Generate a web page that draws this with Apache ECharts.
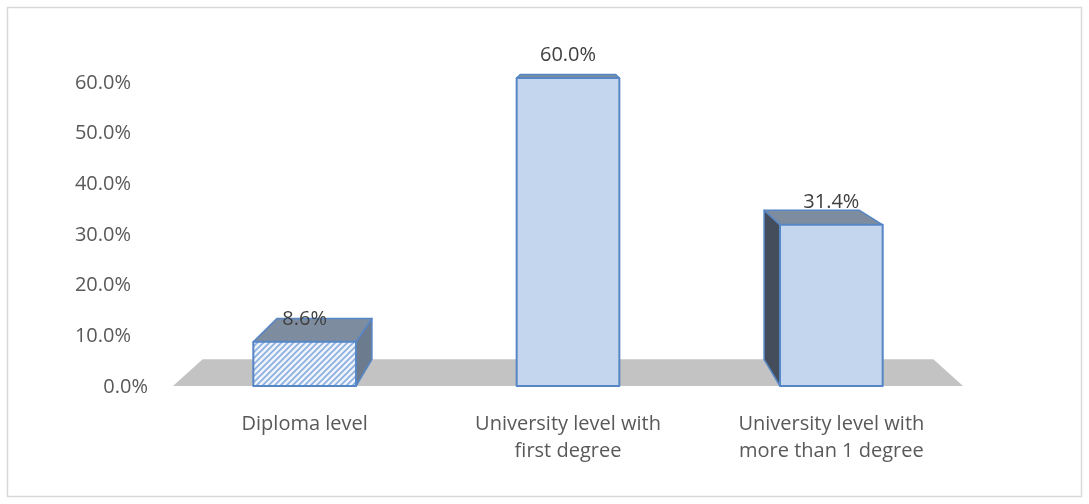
<!DOCTYPE html>
<html>
<head>
<meta charset="utf-8">
<script src="https://cdn.jsdelivr.net/npm/echarts@6/dist/echarts.min.js"></script>
<style>
  html, body { margin: 0; padding: 0; background: #fff; }
  #chart { width: 1089px; height: 504px; }
</style>
</head>
<body>
<div id="chart"></div>
<script>
const categories = ['Diploma level', 'University level with\nfirst degree', 'University level with\nmore than 1 degree']
const values = [8.6, 60.0, 31.4]
const yTicks = [0, 10, 20, 30, 40, 50, 60]

// perspective of the excel 3d view: back face = front moved toward a vanishing point
const depth = 0.075
const vpAbove = 48
const blue = '#5686c6'
const frontFill = '#c4d5ee'
const topFill = '#7d8c9e'
const rightFill = '#6c7b8e'
const leftFill = '#434d5b'

function stripes() {
  const c = document.createElement('canvas')
  c.width = 6
  c.height = 6
  const ctx = c.getContext('2d')
  ctx.fillStyle = '#eef3fb'
  ctx.fillRect(0, 0, 6, 6)
  ctx.strokeStyle = '#8aaede'
  ctx.lineWidth = 1.6
  ctx.beginPath()
  ctx.moveTo(-1, 7); ctx.lineTo(7, -1)
  ctx.moveTo(-4, 4); ctx.lineTo(4, -4)
  ctx.moveTo(2, 10); ctx.lineTo(10, 2)
  ctx.stroke()
  return c
}
const hatch = { image: stripes(), repeat: 'repeat' }

const chart = echarts.init(document.getElementById('chart'))

function project(pt, vp) {
  return [pt[0] + depth * (vp[0] - pt[0]), pt[1] + depth * (vp[1] - pt[1])]
}

function renderFloor(params, api) {
  const cs = params.coordSys
  const vp = [cs.x + cs.width / 2, cs.y - vpAbove]
  const fl = [cs.x, cs.y + cs.height]
  const fr = [cs.x + cs.width, cs.y + cs.height]
  return {
    type: 'polygon',
    shape: { points: [fl, fr, project(fr, vp), project(fl, vp)] },
    style: { fill: '#c3c3c3' }
  }
}

function renderBar(params, api) {
  const cs = params.coordSys
  const vp = [cs.x + cs.width / 2, cs.y - vpAbove]
  const i = api.value(0)
  const top = api.coord([i, api.value(1)])
  const base = api.coord([i, 0])
  const w = api.size([1, 0])[0] * 0.39
  const x0 = top[0] - w / 2, x1 = top[0] + w / 2
  const ftl = [x0, top[1]], ftr = [x1, top[1]]
  const fbl = [x0, base[1]], fbr = [x1, base[1]]
  const btl = project(ftl, vp), btr = project(ftr, vp)
  const bbl = project(fbl, vp), bbr = project(fbr, vp)
  const edge = { stroke: blue, lineWidth: 1.5, lineJoin: 'round' }
  const children = []
  if (vp[0] > x1) {
    children.push({ type: 'polygon', shape: { points: [ftr, btr, bbr, fbr] }, style: Object.assign({ fill: rightFill }, edge) })
  } else if (vp[0] < x0) {
    children.push({ type: 'polygon', shape: { points: [ftl, btl, bbl, fbl] }, style: Object.assign({ fill: leftFill }, edge) })
  }
  children.push({ type: 'polygon', shape: { points: [ftl, ftr, btr, btl] }, style: Object.assign({ fill: topFill }, edge) })
  children.push({
    type: 'polygon',
    shape: { points: [ftl, ftr, fbr, fbl] },
    style: { fill: i === 0 ? hatch : frontFill, stroke: blue, lineWidth: 2, lineJoin: 'round' }
  })
  children.push({
    type: 'text',
    style: {
      x: top[0], y: top[1] - 23,
      text: api.value(1).toFixed(1) + '%',
      fill: '#404040',
      font: '20px "Open Sans"',
      align: 'center', verticalAlign: 'middle'
    }
  })
  return { type: 'group', children: children }
}

// y labels: the 0 label sits by the floor corner, the rest line up further left
const labelRich = {}
yTicks.forEach(v => {
  labelRich['t' + v] = {
    fontFamily: 'Open Sans', fontSize: 20, color: '#595959',
    padding: [2 + 8 * v / 60, v === 0 ? 0 : 17, 0, 0]
  }
})

chart.setOption({
  animation: false,
  graphic: [{
    type: 'rect',
    shape: { x: 7.5, y: 7.5, width: 1074, height: 489 },
    style: { fill: 'none', stroke: '#d9d9d9', lineWidth: 1.5 }
  }],
  grid: { left: 173, right: 126, top: 78, bottom: 118 },
  xAxis: {
    type: 'category',
    data: categories,
    axisLine: { show: false },
    axisTick: { show: false },
    axisLabel: {
      margin: 25,
      fontFamily: 'Open Sans',
      fontSize: 20,
      lineHeight: 27,
      color: '#595959',
      interval: 0
    }
  },
  yAxis: {
    type: 'value',
    min: 0,
    max: 60,
    interval: 10,
    axisLine: { show: false },
    axisTick: { show: false },
    splitLine: { show: false },
    axisLabel: {
      margin: 25,
      formatter: v => '{t' + v + '|' + v.toFixed(1) + '%}',
      rich: labelRich
    }
  },
  series: [
    {
      type: 'custom',
      name: 'floor',
      renderItem: renderFloor,
      data: [[0, 0]],
      silent: true,
      z: 1
    },
    {
      type: 'custom',
      name: 'share',
      renderItem: renderBar,
      clip: false,
      data: values.map((v, i) => [i, v]),
      z: 2
    }
  ]
})
</script>
</body>
</html>
